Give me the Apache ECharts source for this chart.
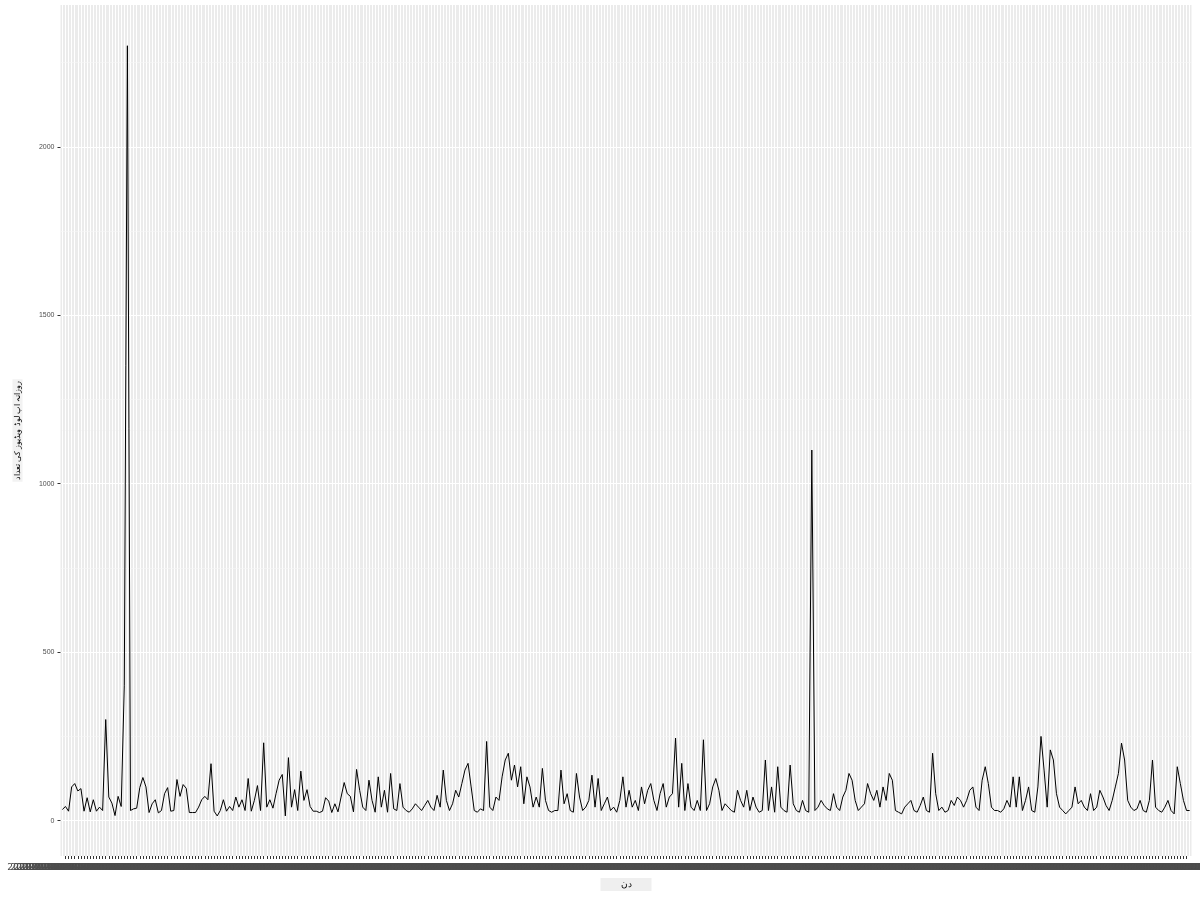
<!DOCTYPE html>
<html>
<head>
<meta charset="utf-8">
<script src="https://cdn.jsdelivr.net/npm/echarts@6/dist/echarts.min.js"></script>
<style>html,body{margin:0;padding:0;background:#fff}#c{width:1200px;height:900px}</style>
</head>
<body>
<div id="c"></div>
<script>
// values per day (365 points)
const values = [
33,42,28,100,110,88,95,28,68,26,62,28,40,30,300,70,52,15,72,42,
400,2300,30,35,37,98,128,100,24,50,62,23,30,80,98,28,30,122,72,107,
96,24,24,24,40,62,72,62,169,28,14,30,62,28,42,30,70,40,62,30,
125,28,60,104,30,231,40,62,37,80,120,137,14,187,40,92,30,147,60,92,
42,28,28,24,28,68,58,24,50,26,70,113,80,72,26,152,90,40,30,120,
60,25,130,40,90,25,140,35,30,110,40,30,25,35,50,40,30,45,60,40,
30,75,40,150,60,30,50,90,70,110,150,170,100,30,25,35,30,235,40,30,
70,60,130,180,200,120,165,100,160,50,130,100,40,70,40,155,60,30,25,30,
30,150,50,80,30,25,140,70,30,40,60,135,40,125,30,50,70,30,40,25,
60,130,40,90,40,60,30,100,50,90,110,60,30,80,110,40,70,80,245,40,
170,30,110,40,30,60,30,240,30,50,100,125,90,30,50,40,30,25,90,60,
40,90,30,70,40,25,30,180,30,100,25,160,40,30,25,165,50,30,25,60,
30,25,1100,30,40,60,45,35,30,80,40,30,70,90,140,120,60,30,40,50,
110,80,60,90,40,100,60,140,120,30,25,20,40,50,60,30,25,45,70,30,
25,200,80,30,40,25,30,60,45,70,60,40,60,90,100,40,30,120,160,110,
40,30,30,25,35,60,40,130,40,130,30,60,100,30,25,100,250,150,40,210,
180,80,40,30,20,30,40,100,50,60,40,30,80,30,40,90,70,45,30,60,
100,140,230,180,60,40,30,35,60,30,25,60,180,40,30,25,40,60,30,20,
160,110,60,30,30
];
// category labels (one per day)
const categories = [];
(function(){
  const d0 = Date.UTC(2021,0,1);
  for (let i = 0; i < values.length; i++) {
    const d = new Date(d0 + i*86400000);
    categories.push(d.toISOString().slice(0,10) + ' 00:00:00 UTC');
  }
})();
const yTicks = [0, 500, 1000, 1500, 2000];
const yMinor = [250, 750, 1250, 1750, 2250];
const xTitle = 'دن';
const yTitle = 'روزانہ اپ لوڈ ویڈیوز کی تعداد';

const xIdx = categories.map((_, i) => i);
const seriesData = values.map((v, i) => [i, v]);

const chart = echarts.init(document.getElementById('c'), null, {renderer: 'canvas'});
chart.setOption({
  animation: false,
  backgroundColor: '#ffffff',
  grid: {
    left: 60.5, right: 8.5, top: 5, bottom: 44,
    outerBoundsMode: 'none', containLabel: false,
    show: true, backgroundColor: '#EBEBEB', borderWidth: 0
  },
  xAxis: {
    type: 'value',
    min: -0.6, max: values.length - 1 + 0.6,
    axisLine: {show: false, onZero: false},
    axisTick: {show: true, customValues: xIdx, length: 3, lineStyle: {color: '#333333', width: 1}},
    axisLabel: {
      customValues: xIdx, color: '#4D4D4D', fontSize: 9, margin: 7,
      fontFamily: 'DejaVu Sans', hideOverlap: false,
      formatter: v => categories[Math.round(v)]
    },
    splitLine: {show: true, lineStyle: {color: '#ffffff', width: 1}},
    name: xTitle, nameLocation: 'middle', nameGap: 22,
    nameTextStyle: {color: '#000', fontSize: 9, fontFamily: 'Noto Sans',
      backgroundColor: '#EFEFEF', padding: [2, 20, 2, 20]}
  },
  yAxis: {
    type: 'value',
    min: -105, max: 2421,
    axisLine: {show: false, onZero: false},
    axisTick: {show: true, customValues: yTicks, length: 3, lineStyle: {color: '#333333', width: 1}},
    axisLabel: {customValues: yTicks, color: '#4D4D4D', fontSize: 7, margin: 6,
      fontFamily: 'Liberation Sans', formatter: v => String(v)},
    splitLine: {show: true, lineStyle: {color: '#ffffff', width: 1.1}},
    name: yTitle, nameLocation: 'middle', nameGap: 38, nameRotate: 90,
    nameTextStyle: {color: '#000', fontSize: 8, fontFamily: 'Noto Sans',
      backgroundColor: '#F2F2F2', padding: [1, 2, 1, 2]}
  },
  series: [
    {
      type: 'line', data: [], z: 1, silent: true,
      markLine: {
        silent: true, symbol: 'none', label: {show: false},
        lineStyle: {color: '#F7F7F7', width: 0.6, type: 'solid'},
        data: yMinor.map(v => ({yAxis: v}))
      }
    },
    {
      type: 'line', data: seriesData, z: 5,
      showSymbol: false, symbol: 'none',
      lineStyle: {color: '#000000', width: 1},
      silent: true
    }
  ]
});
</script>
</body>
</html>
